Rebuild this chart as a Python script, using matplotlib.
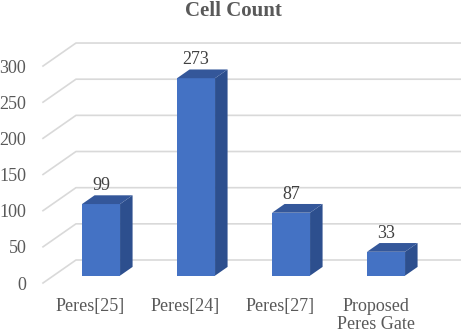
import matplotlib
matplotlib.use('Agg')
import matplotlib.pyplot as plt
from matplotlib.patches import Polygon

# data
categories = ['Peres[25]', 'Peres[24]', 'Peres[27]', 'Proposed\nPeres Gate']
cell_count = [99, 273, 87, 33]
yticks = [0, 50, 100, 150, 200, 250, 300]

# fake 3d: depth offsets in data units (category units, value units)
DX = 0.347
DY = 31.8
Z0, Z1 = 0.32, 0.70
W = 0.4

FRONT = '#4472C4'
SIDE = '#2D4F8E'
TOP = '#34579A'
GRID = '#D9D9D9'
TEXT = '#595959'

plt.rcParams['font.family'] = ['Liberation Serif', 'DejaVu Serif']
plt.rcParams['font.size'] = 13

fig = plt.figure(figsize=(4.61, 3.33), dpi=100)
ax = fig.add_axes([43 / 461, 50 / 333, 1 - 43 / 461, 283 / 333])
ax.set_xlim(-0.5, 3.9)
ax.set_ylim(0, 391.3)


def proj(x, y, z):
    return (x + z * DX, y + z * DY)


# gridlines: floor/left diagonal then back wall
for v in yticks:
    a = proj(-0.5, v, 0)
    b = proj(-0.5, v, 1)
    ax.plot([a[0], b[0], 3.9], [a[1], b[1], b[1]], color=GRID, lw=1.2,
            clip_on=False, zorder=1)

xs = list(range(len(categories)))

# front faces
ax.bar([x + Z0 * DX for x in xs], cell_count, width=W, bottom=Z0 * DY,
       color=FRONT, zorder=3)

for x, v in zip(xs, cell_count):
    l, r = x - W / 2, x + W / 2
    side = [proj(r, 0, Z0), proj(r, v, Z0), proj(r, v, Z1), proj(r, 0, Z1)]
    top = [proj(l, v, Z0), proj(r, v, Z0), proj(r, v, Z1), proj(l, v, Z1)]
    ax.add_patch(Polygon(side, closed=True, fc=SIDE, ec='none', zorder=3))
    ax.add_patch(Polygon(top, closed=True, fc=TOP, ec='none', zorder=3))
    px = x + Z0 * DX
    py = v + Z1 * DY
    ax.text(px, py + 2, str(v), ha='center', va='bottom', color='#404040',
            fontsize=13)

ax.set_yticks(yticks)
ax.set_xticks(xs)
ax.set_xticklabels(categories, color=TEXT, linespacing=1.05)
ax.tick_params(axis='both', length=0, labelcolor=TEXT, labelsize=13)
ax.tick_params(axis='y', pad=12)
ax.tick_params(axis='x', pad=11)
for s in ax.spines.values():
    s.set_visible(False)
ax.patch.set_visible(False)

fig.text(233 / 461, 1 - 11 / 333, 'Cell Count', ha='center', va='center',
         fontsize=15, fontweight='bold', color=TEXT)

fig.savefig('out.png', dpi=100)
